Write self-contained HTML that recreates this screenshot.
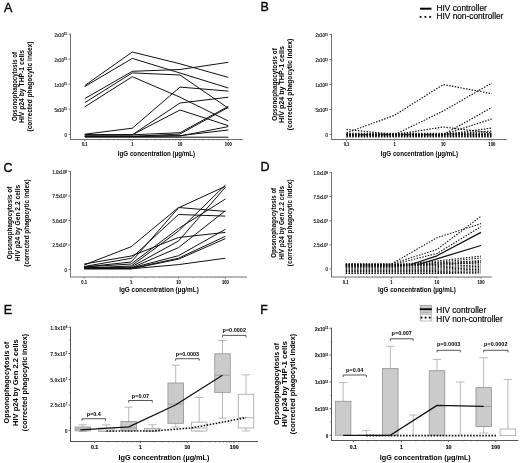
<!DOCTYPE html><html><head><meta charset="utf-8"><style>html,body{margin:0;padding:0;background:#fff;width:520px;height:463px;overflow:hidden}svg{display:block;filter:blur(0.35px)}text{font-family:"Liberation Sans",sans-serif}</style></head><body><svg width="520" height="463" viewBox="0 0 520 463"><g><text x="4.00" y="11.70" font-size="12.5" text-anchor="start" font-weight="normal" fill="#000" stroke="#000" stroke-width="0.35"  >A</text>
<text transform="translate(16.62,86.5) rotate(-90)" font-size="7.0" text-anchor="middle" fill="#000" font-weight="bold" textLength="69" lengthAdjust="spacingAndGlyphs">Opsonophagocytosis of</text>
<text transform="translate(23.62,86.5) rotate(-90)" font-size="7.0" text-anchor="middle" fill="#000" font-weight="bold" textLength="73" lengthAdjust="spacingAndGlyphs">HIV p24 by THP-1 cells</text>
<text transform="translate(31.72,86.5) rotate(-90)" font-size="7.0" text-anchor="middle" fill="#000" font-weight="bold" textLength="90" lengthAdjust="spacingAndGlyphs">(corrected phagocytic index)</text>
<line x1="70.50" y1="33.80" x2="70.50" y2="140.00" stroke="#707070" stroke-width="1.0" />
<line x1="68.50" y1="34.30" x2="70.50" y2="34.30" stroke="#707070" stroke-width="0.9" />
<text transform="translate(67.00,36.53) scale(0.9,1)" font-size="4.8" text-anchor="end" font-weight="normal" fill="#333" stroke="#333" stroke-width="0.25"  >2x10<tspan font-size="70%" baseline-shift="45%">11</tspan></text>
<line x1="68.50" y1="59.30" x2="70.50" y2="59.30" stroke="#707070" stroke-width="0.9" />
<text transform="translate(67.00,61.53) scale(0.9,1)" font-size="4.8" text-anchor="end" font-weight="normal" fill="#333" stroke="#333" stroke-width="0.25"  >2x10<tspan font-size="70%" baseline-shift="45%">11</tspan></text>
<line x1="68.50" y1="84.30" x2="70.50" y2="84.30" stroke="#707070" stroke-width="0.9" />
<text transform="translate(67.00,86.53) scale(0.9,1)" font-size="4.8" text-anchor="end" font-weight="normal" fill="#333" stroke="#333" stroke-width="0.25"  >1x10<tspan font-size="70%" baseline-shift="45%">11</tspan></text>
<line x1="68.50" y1="109.30" x2="70.50" y2="109.30" stroke="#707070" stroke-width="0.9" />
<text transform="translate(67.00,111.53) scale(0.9,1)" font-size="4.8" text-anchor="end" font-weight="normal" fill="#333" stroke="#333" stroke-width="0.25"  >5x10<tspan font-size="70%" baseline-shift="45%">11</tspan></text>
<line x1="68.50" y1="134.40" x2="70.50" y2="134.40" stroke="#707070" stroke-width="0.9" />
<text transform="translate(67.00,136.63) scale(0.9,1)" font-size="4.8" text-anchor="end" font-weight="normal" fill="#333" stroke="#333" stroke-width="0.25"  >0</text>
<line x1="70.00" y1="139.50" x2="243.00" y2="139.50" stroke="#707070" stroke-width="1.0" />
<line x1="84.80" y1="139.50" x2="84.80" y2="141.10" stroke="#707070" stroke-width="0.9" />
<text transform="translate(84.80,146.00) scale(0.9,1)" font-size="4.6" text-anchor="middle" font-weight="bold" fill="#111" stroke="#111" stroke-width="0.1"  >0.1</text>
<line x1="132.30" y1="139.50" x2="132.30" y2="141.10" stroke="#707070" stroke-width="0.9" />
<text transform="translate(132.30,146.00) scale(0.9,1)" font-size="4.6" text-anchor="middle" font-weight="bold" fill="#111" stroke="#111" stroke-width="0.1"  >1</text>
<line x1="180.00" y1="139.50" x2="180.00" y2="141.10" stroke="#707070" stroke-width="0.9" />
<text transform="translate(180.00,146.00) scale(0.9,1)" font-size="4.6" text-anchor="middle" font-weight="bold" fill="#111" stroke="#111" stroke-width="0.1"  >10</text>
<line x1="228.30" y1="139.50" x2="228.30" y2="141.10" stroke="#707070" stroke-width="0.9" />
<text transform="translate(228.30,146.00) scale(0.9,1)" font-size="4.6" text-anchor="middle" font-weight="bold" fill="#111" stroke="#111" stroke-width="0.1"  >100</text>
<line x1="99.20" y1="139.50" x2="99.20" y2="140.50" stroke="#707070" stroke-width="0.6" />
<line x1="107.62" y1="139.50" x2="107.62" y2="140.50" stroke="#707070" stroke-width="0.6" />
<line x1="113.60" y1="139.50" x2="113.60" y2="140.50" stroke="#707070" stroke-width="0.6" />
<line x1="118.23" y1="139.50" x2="118.23" y2="140.50" stroke="#707070" stroke-width="0.6" />
<line x1="122.02" y1="139.50" x2="122.02" y2="140.50" stroke="#707070" stroke-width="0.6" />
<line x1="125.22" y1="139.50" x2="125.22" y2="140.50" stroke="#707070" stroke-width="0.6" />
<line x1="128.00" y1="139.50" x2="128.00" y2="140.50" stroke="#707070" stroke-width="0.6" />
<line x1="130.44" y1="139.50" x2="130.44" y2="140.50" stroke="#707070" stroke-width="0.6" />
<line x1="146.70" y1="139.50" x2="146.70" y2="140.50" stroke="#707070" stroke-width="0.6" />
<line x1="155.12" y1="139.50" x2="155.12" y2="140.50" stroke="#707070" stroke-width="0.6" />
<line x1="161.10" y1="139.50" x2="161.10" y2="140.50" stroke="#707070" stroke-width="0.6" />
<line x1="165.73" y1="139.50" x2="165.73" y2="140.50" stroke="#707070" stroke-width="0.6" />
<line x1="169.52" y1="139.50" x2="169.52" y2="140.50" stroke="#707070" stroke-width="0.6" />
<line x1="172.72" y1="139.50" x2="172.72" y2="140.50" stroke="#707070" stroke-width="0.6" />
<line x1="175.50" y1="139.50" x2="175.50" y2="140.50" stroke="#707070" stroke-width="0.6" />
<line x1="177.94" y1="139.50" x2="177.94" y2="140.50" stroke="#707070" stroke-width="0.6" />
<line x1="194.40" y1="139.50" x2="194.40" y2="140.50" stroke="#707070" stroke-width="0.6" />
<line x1="202.82" y1="139.50" x2="202.82" y2="140.50" stroke="#707070" stroke-width="0.6" />
<line x1="208.80" y1="139.50" x2="208.80" y2="140.50" stroke="#707070" stroke-width="0.6" />
<line x1="213.43" y1="139.50" x2="213.43" y2="140.50" stroke="#707070" stroke-width="0.6" />
<line x1="217.22" y1="139.50" x2="217.22" y2="140.50" stroke="#707070" stroke-width="0.6" />
<line x1="220.42" y1="139.50" x2="220.42" y2="140.50" stroke="#707070" stroke-width="0.6" />
<line x1="223.20" y1="139.50" x2="223.20" y2="140.50" stroke="#707070" stroke-width="0.6" />
<line x1="225.64" y1="139.50" x2="225.64" y2="140.50" stroke="#707070" stroke-width="0.6" />
<text x="156.50" y="155.90" font-size="7.0" text-anchor="middle" font-weight="bold" fill="#000"  textLength="77.3" lengthAdjust="spacingAndGlyphs" >IgG concentration (µg/mL)</text>
<polyline points="84.80,85.50 132.30,52.00 180.00,63.80 228.30,77.40" fill="none" stroke="#111" stroke-width="1.0" stroke-linejoin="round"  />
<polyline points="84.80,86.50 132.30,58.40 180.00,73.00 228.30,88.00" fill="none" stroke="#111" stroke-width="1.0" stroke-linejoin="round"  />
<polyline points="84.80,98.60 132.30,71.30 180.00,69.50 228.30,62.30" fill="none" stroke="#111" stroke-width="1.0" stroke-linejoin="round"  />
<polyline points="84.80,102.60 132.30,72.90 180.00,75.00 228.30,108.20" fill="none" stroke="#111" stroke-width="1.0" stroke-linejoin="round"  />
<polyline points="84.80,106.80 132.30,76.70 180.00,97.20 228.30,121.00" fill="none" stroke="#111" stroke-width="1.0" stroke-linejoin="round"  />
<polyline points="84.80,134.20 132.30,128.20 180.00,87.10 228.30,91.10" fill="none" stroke="#111" stroke-width="1.0" stroke-linejoin="round"  />
<polyline points="84.80,134.80 132.30,134.80 180.00,103.00 228.30,97.20" fill="none" stroke="#111" stroke-width="1.0" stroke-linejoin="round"  />
<polyline points="84.80,134.80 132.30,134.80 180.00,110.00 228.30,125.60" fill="none" stroke="#111" stroke-width="1.0" stroke-linejoin="round"  />
<polyline points="84.80,135.00 132.30,134.80 180.00,132.70 228.30,106.40" fill="none" stroke="#111" stroke-width="1.0" stroke-linejoin="round"  />
<polyline points="84.80,136.40 132.30,136.40 180.00,134.00 228.30,107.40" fill="none" stroke="#111" stroke-width="1.0" stroke-linejoin="round"  />
<polyline points="84.80,136.40 132.30,136.40 180.00,136.00 228.30,126.60" fill="none" stroke="#111" stroke-width="1.0" stroke-linejoin="round"  />
<polyline points="84.80,136.40 132.30,136.40 180.00,135.60 228.30,130.00" fill="none" stroke="#111" stroke-width="1.0" stroke-linejoin="round"  />
<polyline points="84.80,137.20 132.30,137.20 180.00,137.20 228.30,137.20" fill="none" stroke="#111" stroke-width="1.0" stroke-linejoin="round"  />
<text x="260.40" y="10.90" font-size="12.5" text-anchor="start" font-weight="normal" fill="#000" stroke="#000" stroke-width="0.35"  >B</text>
<text transform="translate(277.22,84.5) rotate(-90)" font-size="7.0" text-anchor="middle" fill="#000" font-weight="bold" textLength="72.5" lengthAdjust="spacingAndGlyphs">Opsonophagocytosis of</text>
<text transform="translate(284.22,84.5) rotate(-90)" font-size="7.0" text-anchor="middle" fill="#000" font-weight="bold" textLength="77" lengthAdjust="spacingAndGlyphs">HIV p24 by THP-1 cells</text>
<text transform="translate(292.42,84.5) rotate(-90)" font-size="7.0" text-anchor="middle" fill="#000" font-weight="bold" textLength="91.5" lengthAdjust="spacingAndGlyphs">(corrected phagocytic index)</text>
<line x1="331.50" y1="33.80" x2="331.50" y2="140.00" stroke="#707070" stroke-width="1.0" />
<line x1="329.50" y1="34.50" x2="331.50" y2="34.50" stroke="#707070" stroke-width="0.9" />
<text transform="translate(328.00,36.73) scale(0.9,1)" font-size="4.8" text-anchor="end" font-weight="normal" fill="#333" stroke="#333" stroke-width="0.25"  >2x10<tspan font-size="70%" baseline-shift="45%">11</tspan></text>
<line x1="329.50" y1="59.50" x2="331.50" y2="59.50" stroke="#707070" stroke-width="0.9" />
<text transform="translate(328.00,61.73) scale(0.9,1)" font-size="4.8" text-anchor="end" font-weight="normal" fill="#333" stroke="#333" stroke-width="0.25"  >2x10<tspan font-size="70%" baseline-shift="45%">11</tspan></text>
<line x1="329.50" y1="84.50" x2="331.50" y2="84.50" stroke="#707070" stroke-width="0.9" />
<text transform="translate(328.00,86.73) scale(0.9,1)" font-size="4.8" text-anchor="end" font-weight="normal" fill="#333" stroke="#333" stroke-width="0.25"  >1x10<tspan font-size="70%" baseline-shift="45%">11</tspan></text>
<line x1="329.50" y1="109.50" x2="331.50" y2="109.50" stroke="#707070" stroke-width="0.9" />
<text transform="translate(328.00,111.73) scale(0.9,1)" font-size="4.8" text-anchor="end" font-weight="normal" fill="#333" stroke="#333" stroke-width="0.25"  >5x10<tspan font-size="70%" baseline-shift="45%">11</tspan></text>
<line x1="329.50" y1="134.50" x2="331.50" y2="134.50" stroke="#707070" stroke-width="0.9" />
<text transform="translate(328.00,136.73) scale(0.9,1)" font-size="4.8" text-anchor="end" font-weight="normal" fill="#333" stroke="#333" stroke-width="0.25"  >0</text>
<line x1="331.00" y1="139.50" x2="507.00" y2="139.50" stroke="#707070" stroke-width="1.0" />
<line x1="346.50" y1="139.50" x2="346.50" y2="141.10" stroke="#707070" stroke-width="0.9" />
<text transform="translate(346.50,146.00) scale(0.9,1)" font-size="4.6" text-anchor="middle" font-weight="bold" fill="#111" stroke="#111" stroke-width="0.1"  >0.1</text>
<line x1="394.70" y1="139.50" x2="394.70" y2="141.10" stroke="#707070" stroke-width="0.9" />
<text transform="translate(394.70,146.00) scale(0.9,1)" font-size="4.6" text-anchor="middle" font-weight="bold" fill="#111" stroke="#111" stroke-width="0.1"  >1</text>
<line x1="443.30" y1="139.50" x2="443.30" y2="141.10" stroke="#707070" stroke-width="0.9" />
<text transform="translate(443.30,146.00) scale(0.9,1)" font-size="4.6" text-anchor="middle" font-weight="bold" fill="#111" stroke="#111" stroke-width="0.1"  >10</text>
<line x1="491.80" y1="139.50" x2="491.80" y2="141.10" stroke="#707070" stroke-width="0.9" />
<text transform="translate(491.80,146.00) scale(0.9,1)" font-size="4.6" text-anchor="middle" font-weight="bold" fill="#111" stroke="#111" stroke-width="0.1"  >100</text>
<line x1="361.08" y1="139.50" x2="361.08" y2="140.50" stroke="#707070" stroke-width="0.6" />
<line x1="369.61" y1="139.50" x2="369.61" y2="140.50" stroke="#707070" stroke-width="0.6" />
<line x1="375.66" y1="139.50" x2="375.66" y2="140.50" stroke="#707070" stroke-width="0.6" />
<line x1="380.35" y1="139.50" x2="380.35" y2="140.50" stroke="#707070" stroke-width="0.6" />
<line x1="384.19" y1="139.50" x2="384.19" y2="140.50" stroke="#707070" stroke-width="0.6" />
<line x1="387.43" y1="139.50" x2="387.43" y2="140.50" stroke="#707070" stroke-width="0.6" />
<line x1="390.24" y1="139.50" x2="390.24" y2="140.50" stroke="#707070" stroke-width="0.6" />
<line x1="392.72" y1="139.50" x2="392.72" y2="140.50" stroke="#707070" stroke-width="0.6" />
<line x1="409.28" y1="139.50" x2="409.28" y2="140.50" stroke="#707070" stroke-width="0.6" />
<line x1="417.81" y1="139.50" x2="417.81" y2="140.50" stroke="#707070" stroke-width="0.6" />
<line x1="423.86" y1="139.50" x2="423.86" y2="140.50" stroke="#707070" stroke-width="0.6" />
<line x1="428.55" y1="139.50" x2="428.55" y2="140.50" stroke="#707070" stroke-width="0.6" />
<line x1="432.39" y1="139.50" x2="432.39" y2="140.50" stroke="#707070" stroke-width="0.6" />
<line x1="435.63" y1="139.50" x2="435.63" y2="140.50" stroke="#707070" stroke-width="0.6" />
<line x1="438.44" y1="139.50" x2="438.44" y2="140.50" stroke="#707070" stroke-width="0.6" />
<line x1="440.92" y1="139.50" x2="440.92" y2="140.50" stroke="#707070" stroke-width="0.6" />
<line x1="457.88" y1="139.50" x2="457.88" y2="140.50" stroke="#707070" stroke-width="0.6" />
<line x1="466.41" y1="139.50" x2="466.41" y2="140.50" stroke="#707070" stroke-width="0.6" />
<line x1="472.46" y1="139.50" x2="472.46" y2="140.50" stroke="#707070" stroke-width="0.6" />
<line x1="477.15" y1="139.50" x2="477.15" y2="140.50" stroke="#707070" stroke-width="0.6" />
<line x1="480.99" y1="139.50" x2="480.99" y2="140.50" stroke="#707070" stroke-width="0.6" />
<line x1="484.23" y1="139.50" x2="484.23" y2="140.50" stroke="#707070" stroke-width="0.6" />
<line x1="487.04" y1="139.50" x2="487.04" y2="140.50" stroke="#707070" stroke-width="0.6" />
<line x1="489.52" y1="139.50" x2="489.52" y2="140.50" stroke="#707070" stroke-width="0.6" />
<text x="419.50" y="155.90" font-size="7.0" text-anchor="middle" font-weight="bold" fill="#000"  textLength="77.3" lengthAdjust="spacingAndGlyphs" >IgG concentration (µg/mL)</text>
<polyline points="346.50,133.00 394.70,115.20 443.30,84.50 491.80,93.70" fill="none" stroke="#111" stroke-width="1.2" stroke-linejoin="round" stroke-dasharray="1.45 1.42" />
<polyline points="346.50,134.60 394.70,134.60 443.30,111.00 491.80,83.00" fill="none" stroke="#111" stroke-width="1.2" stroke-linejoin="round" stroke-dasharray="1.45 1.42" />
<polyline points="346.50,134.60 394.70,134.60 443.30,134.60 491.80,107.50" fill="none" stroke="#111" stroke-width="1.2" stroke-linejoin="round" stroke-dasharray="1.45 1.42" />
<polyline points="346.50,134.60 394.70,134.60 443.30,134.60 491.80,119.00" fill="none" stroke="#111" stroke-width="1.2" stroke-linejoin="round" stroke-dasharray="1.45 1.42" />
<polyline points="346.50,129.40 394.70,134.60 443.30,134.60 491.80,134.60" fill="none" stroke="#111" stroke-width="1.2" stroke-linejoin="round" stroke-dasharray="1.45 1.42" />
<polyline points="346.50,134.60 394.70,134.60 443.30,127.00 491.80,133.00" fill="none" stroke="#111" stroke-width="1.2" stroke-linejoin="round" stroke-dasharray="1.45 1.42" />
<polyline points="346.50,134.60 394.70,134.60 443.30,134.60 491.80,128.00" fill="none" stroke="#111" stroke-width="1.2" stroke-linejoin="round" stroke-dasharray="1.45 1.42" />
<polyline points="346.50,134.60 394.70,134.60 443.30,134.60 491.80,131.00" fill="none" stroke="#111" stroke-width="1.2" stroke-linejoin="round" stroke-dasharray="1.45 1.42" />
<polyline points="346.50,133.40 394.70,133.40 443.30,133.40 491.80,133.40" fill="none" stroke="#111" stroke-width="1.2" stroke-linejoin="round" stroke-dasharray="1.45 1.42" />
<polyline points="346.50,134.40 394.70,134.40 443.30,134.40 491.80,134.40" fill="none" stroke="#111" stroke-width="1.2" stroke-linejoin="round" stroke-dasharray="1.45 1.42" />
<polyline points="346.50,135.40 394.70,135.40 443.30,135.40 491.80,135.40" fill="none" stroke="#111" stroke-width="1.2" stroke-linejoin="round" stroke-dasharray="1.45 1.42" />
<polyline points="346.50,136.40 394.70,136.40 443.30,136.40 491.80,136.40" fill="none" stroke="#111" stroke-width="1.2" stroke-linejoin="round" stroke-dasharray="1.45 1.42" />
<polyline points="346.50,137.00 394.70,137.00 443.30,137.00 491.80,137.00" fill="none" stroke="#111" stroke-width="1.2" stroke-linejoin="round" stroke-dasharray="1.45 1.42" />
<line x1="420.00" y1="8.70" x2="431.50" y2="8.70" stroke="#000" stroke-width="2" />
<text x="436.50" y="11.30" font-size="8.3" text-anchor="start" font-weight="normal" fill="#000" stroke="#000" stroke-width="0.18"  >HIV controller</text>
<rect x="419.70000000000005" y="16" width="1.8" height="1.8" fill="#000"/>
<rect x="424.5" y="16" width="1.8" height="1.8" fill="#000"/>
<rect x="429.3" y="16" width="1.8" height="1.8" fill="#000"/>
<text x="436.50" y="19.00" font-size="8.3" text-anchor="start" font-weight="normal" fill="#000" stroke="#000" stroke-width="0.18"  >HIV non-controller</text>
<text x="3.50" y="171.60" font-size="12.5" text-anchor="start" font-weight="normal" fill="#000" stroke="#000" stroke-width="0.35"  >C</text>
<text transform="translate(12.12,223.0) rotate(-90)" font-size="7.0" text-anchor="middle" fill="#000" font-weight="bold" textLength="72.5" lengthAdjust="spacingAndGlyphs">Opsonophagocytosis of</text>
<text transform="translate(20.32,223.0) rotate(-90)" font-size="7.0" text-anchor="middle" fill="#000" font-weight="bold" textLength="76.5" lengthAdjust="spacingAndGlyphs">HIV p24 by Gen 2.2 cells</text>
<text transform="translate(29.32,223.0) rotate(-90)" font-size="7.0" text-anchor="middle" fill="#000" font-weight="bold" textLength="87.5" lengthAdjust="spacingAndGlyphs">(corrected phagocytic index)</text>
<line x1="70.50" y1="171.00" x2="70.50" y2="277.00" stroke="#707070" stroke-width="1.0" />
<line x1="68.50" y1="171.50" x2="70.50" y2="171.50" stroke="#707070" stroke-width="0.9" />
<text transform="translate(67.00,173.73) scale(0.9,1)" font-size="4.8" text-anchor="end" font-weight="normal" fill="#333" stroke="#333" stroke-width="0.25"  >1.0x10<tspan font-size="70%" baseline-shift="45%">8</tspan></text>
<line x1="68.50" y1="196.00" x2="70.50" y2="196.00" stroke="#707070" stroke-width="0.9" />
<text transform="translate(67.00,198.23) scale(0.9,1)" font-size="4.8" text-anchor="end" font-weight="normal" fill="#333" stroke="#333" stroke-width="0.25"  >7.5x10<tspan font-size="70%" baseline-shift="45%">7</tspan></text>
<line x1="68.50" y1="220.50" x2="70.50" y2="220.50" stroke="#707070" stroke-width="0.9" />
<text transform="translate(67.00,222.73) scale(0.9,1)" font-size="4.8" text-anchor="end" font-weight="normal" fill="#333" stroke="#333" stroke-width="0.25"  >5.0x10<tspan font-size="70%" baseline-shift="45%">7</tspan></text>
<line x1="68.50" y1="245.00" x2="70.50" y2="245.00" stroke="#707070" stroke-width="0.9" />
<text transform="translate(67.00,247.23) scale(0.9,1)" font-size="4.8" text-anchor="end" font-weight="normal" fill="#333" stroke="#333" stroke-width="0.25"  >2.5x10<tspan font-size="70%" baseline-shift="45%">7</tspan></text>
<line x1="68.50" y1="269.40" x2="70.50" y2="269.40" stroke="#707070" stroke-width="0.9" />
<text transform="translate(67.00,271.63) scale(0.9,1)" font-size="4.8" text-anchor="end" font-weight="normal" fill="#333" stroke="#333" stroke-width="0.25"  >0</text>
<line x1="70.00" y1="277.00" x2="247.00" y2="277.00" stroke="#707070" stroke-width="1.0" />
<line x1="84.20" y1="277.00" x2="84.20" y2="278.60" stroke="#707070" stroke-width="0.9" />
<text transform="translate(84.20,283.50) scale(0.9,1)" font-size="4.6" text-anchor="middle" font-weight="bold" fill="#111" stroke="#111" stroke-width="0.1"  >0.1</text>
<line x1="131.20" y1="277.00" x2="131.20" y2="278.60" stroke="#707070" stroke-width="0.9" />
<text transform="translate(131.20,283.50) scale(0.9,1)" font-size="4.6" text-anchor="middle" font-weight="bold" fill="#111" stroke="#111" stroke-width="0.1"  >1</text>
<line x1="178.50" y1="277.00" x2="178.50" y2="278.60" stroke="#707070" stroke-width="0.9" />
<text transform="translate(178.50,283.50) scale(0.9,1)" font-size="4.6" text-anchor="middle" font-weight="bold" fill="#111" stroke="#111" stroke-width="0.1"  >10</text>
<line x1="225.40" y1="277.00" x2="225.40" y2="278.60" stroke="#707070" stroke-width="0.9" />
<text transform="translate(225.40,283.50) scale(0.9,1)" font-size="4.6" text-anchor="middle" font-weight="bold" fill="#111" stroke="#111" stroke-width="0.1"  >100</text>
<line x1="98.37" y1="277.00" x2="98.37" y2="278.00" stroke="#707070" stroke-width="0.6" />
<line x1="106.66" y1="277.00" x2="106.66" y2="278.00" stroke="#707070" stroke-width="0.6" />
<line x1="112.54" y1="277.00" x2="112.54" y2="278.00" stroke="#707070" stroke-width="0.6" />
<line x1="117.10" y1="277.00" x2="117.10" y2="278.00" stroke="#707070" stroke-width="0.6" />
<line x1="120.82" y1="277.00" x2="120.82" y2="278.00" stroke="#707070" stroke-width="0.6" />
<line x1="123.98" y1="277.00" x2="123.98" y2="278.00" stroke="#707070" stroke-width="0.6" />
<line x1="126.71" y1="277.00" x2="126.71" y2="278.00" stroke="#707070" stroke-width="0.6" />
<line x1="129.11" y1="277.00" x2="129.11" y2="278.00" stroke="#707070" stroke-width="0.6" />
<line x1="145.37" y1="277.00" x2="145.37" y2="278.00" stroke="#707070" stroke-width="0.6" />
<line x1="153.66" y1="277.00" x2="153.66" y2="278.00" stroke="#707070" stroke-width="0.6" />
<line x1="159.54" y1="277.00" x2="159.54" y2="278.00" stroke="#707070" stroke-width="0.6" />
<line x1="164.10" y1="277.00" x2="164.10" y2="278.00" stroke="#707070" stroke-width="0.6" />
<line x1="167.82" y1="277.00" x2="167.82" y2="278.00" stroke="#707070" stroke-width="0.6" />
<line x1="170.98" y1="277.00" x2="170.98" y2="278.00" stroke="#707070" stroke-width="0.6" />
<line x1="173.71" y1="277.00" x2="173.71" y2="278.00" stroke="#707070" stroke-width="0.6" />
<line x1="176.11" y1="277.00" x2="176.11" y2="278.00" stroke="#707070" stroke-width="0.6" />
<line x1="192.67" y1="277.00" x2="192.67" y2="278.00" stroke="#707070" stroke-width="0.6" />
<line x1="200.96" y1="277.00" x2="200.96" y2="278.00" stroke="#707070" stroke-width="0.6" />
<line x1="206.84" y1="277.00" x2="206.84" y2="278.00" stroke="#707070" stroke-width="0.6" />
<line x1="211.40" y1="277.00" x2="211.40" y2="278.00" stroke="#707070" stroke-width="0.6" />
<line x1="215.12" y1="277.00" x2="215.12" y2="278.00" stroke="#707070" stroke-width="0.6" />
<line x1="218.28" y1="277.00" x2="218.28" y2="278.00" stroke="#707070" stroke-width="0.6" />
<line x1="221.01" y1="277.00" x2="221.01" y2="278.00" stroke="#707070" stroke-width="0.6" />
<line x1="223.41" y1="277.00" x2="223.41" y2="278.00" stroke="#707070" stroke-width="0.6" />
<text x="159.00" y="292.20" font-size="7.0" text-anchor="middle" font-weight="bold" fill="#000"  textLength="79.6" lengthAdjust="spacingAndGlyphs" >IgG concentration (µg/mL)</text>
<polyline points="84.20,265.00 131.20,246.70 178.50,207.50 225.40,211.40" fill="none" stroke="#111" stroke-width="1.0" stroke-linejoin="round"  />
<polyline points="84.20,266.50 131.20,258.30 178.50,214.50 225.40,216.10" fill="none" stroke="#111" stroke-width="1.0" stroke-linejoin="round"  />
<polyline points="84.20,267.00 131.20,262.00 178.50,207.80 225.40,186.30" fill="none" stroke="#111" stroke-width="1.0" stroke-linejoin="round"  />
<polyline points="84.20,268.00 131.20,266.00 178.50,231.00 225.40,185.00" fill="none" stroke="#111" stroke-width="1.0" stroke-linejoin="round"  />
<polyline points="84.20,268.00 131.20,267.00 178.50,241.00 225.40,187.20" fill="none" stroke="#111" stroke-width="1.0" stroke-linejoin="round"  />
<polyline points="84.20,267.00 131.20,264.00 178.50,228.50 225.40,199.00" fill="none" stroke="#111" stroke-width="1.0" stroke-linejoin="round"  />
<polyline points="84.20,268.00 131.20,268.00 178.50,247.60 225.40,210.70" fill="none" stroke="#111" stroke-width="1.0" stroke-linejoin="round"  />
<polyline points="84.20,264.00 131.20,256.00 178.50,237.50 225.40,232.40" fill="none" stroke="#111" stroke-width="1.0" stroke-linejoin="round"  />
<polyline points="84.20,268.00 131.20,268.00 178.50,255.70 225.40,229.30" fill="none" stroke="#111" stroke-width="1.0" stroke-linejoin="round"  />
<polyline points="84.20,268.50 131.20,268.50 178.50,258.20 225.40,236.30" fill="none" stroke="#111" stroke-width="1.0" stroke-linejoin="round"  />
<polyline points="84.20,268.80 131.20,268.80 178.50,259.20 225.40,238.60" fill="none" stroke="#111" stroke-width="1.0" stroke-linejoin="round"  />
<polyline points="84.20,268.80 131.20,268.80 178.50,264.60 225.40,258.20" fill="none" stroke="#111" stroke-width="1.0" stroke-linejoin="round"  />
<text x="260.40" y="171.30" font-size="12.5" text-anchor="start" font-weight="normal" fill="#000" stroke="#000" stroke-width="0.35"  >D</text>
<text transform="translate(275.67,222.8) rotate(-90)" font-size="6.8" text-anchor="middle" fill="#000" font-weight="bold" textLength="69.9" lengthAdjust="spacingAndGlyphs">Opsonophagocytosis of</text>
<text transform="translate(283.77,222.8) rotate(-90)" font-size="6.8" text-anchor="middle" fill="#000" font-weight="bold" textLength="73.7" lengthAdjust="spacingAndGlyphs">HIV p24 by Gen 2.2 cells</text>
<text transform="translate(292.27,222.8) rotate(-90)" font-size="6.8" text-anchor="middle" fill="#000" font-weight="bold" textLength="86.8" lengthAdjust="spacingAndGlyphs">(corrected phagocytic index)</text>
<line x1="331.50" y1="172.00" x2="331.50" y2="277.00" stroke="#707070" stroke-width="1.0" />
<line x1="329.50" y1="172.60" x2="331.50" y2="172.60" stroke="#707070" stroke-width="0.9" />
<text transform="translate(328.00,174.83) scale(0.9,1)" font-size="4.8" text-anchor="end" font-weight="normal" fill="#333" stroke="#333" stroke-width="0.25"  >1.0x10<tspan font-size="70%" baseline-shift="45%">8</tspan></text>
<line x1="329.50" y1="196.50" x2="331.50" y2="196.50" stroke="#707070" stroke-width="0.9" />
<text transform="translate(328.00,198.73) scale(0.9,1)" font-size="4.8" text-anchor="end" font-weight="normal" fill="#333" stroke="#333" stroke-width="0.25"  >7.5x10<tspan font-size="70%" baseline-shift="45%">7</tspan></text>
<line x1="329.50" y1="220.70" x2="331.50" y2="220.70" stroke="#707070" stroke-width="0.9" />
<text transform="translate(328.00,222.93) scale(0.9,1)" font-size="4.8" text-anchor="end" font-weight="normal" fill="#333" stroke="#333" stroke-width="0.25"  >5.0x10<tspan font-size="70%" baseline-shift="45%">7</tspan></text>
<line x1="329.50" y1="244.80" x2="331.50" y2="244.80" stroke="#707070" stroke-width="0.9" />
<text transform="translate(328.00,247.03) scale(0.9,1)" font-size="4.8" text-anchor="end" font-weight="normal" fill="#333" stroke="#333" stroke-width="0.25"  >2.5x10<tspan font-size="70%" baseline-shift="45%">7</tspan></text>
<line x1="329.50" y1="269.00" x2="331.50" y2="269.00" stroke="#707070" stroke-width="0.9" />
<text transform="translate(328.00,271.23) scale(0.9,1)" font-size="4.8" text-anchor="end" font-weight="normal" fill="#333" stroke="#333" stroke-width="0.25"  >0</text>
<line x1="331.00" y1="277.00" x2="491.80" y2="277.00" stroke="#707070" stroke-width="1.0" />
<line x1="345.70" y1="277.00" x2="345.70" y2="278.60" stroke="#707070" stroke-width="0.9" />
<text transform="translate(345.70,283.50) scale(0.9,1)" font-size="4.6" text-anchor="middle" font-weight="bold" fill="#111" stroke="#111" stroke-width="0.1"  >0.1</text>
<line x1="391.40" y1="277.00" x2="391.40" y2="278.60" stroke="#707070" stroke-width="0.9" />
<text transform="translate(391.40,283.50) scale(0.9,1)" font-size="4.6" text-anchor="middle" font-weight="bold" fill="#111" stroke="#111" stroke-width="0.1"  >1</text>
<line x1="436.90" y1="277.00" x2="436.90" y2="278.60" stroke="#707070" stroke-width="0.9" />
<text transform="translate(436.90,283.50) scale(0.9,1)" font-size="4.6" text-anchor="middle" font-weight="bold" fill="#111" stroke="#111" stroke-width="0.1"  >10</text>
<line x1="481.00" y1="277.00" x2="481.00" y2="278.60" stroke="#707070" stroke-width="0.9" />
<text transform="translate(481.00,283.50) scale(0.9,1)" font-size="4.6" text-anchor="middle" font-weight="bold" fill="#111" stroke="#111" stroke-width="0.1"  >100</text>
<line x1="359.28" y1="277.00" x2="359.28" y2="278.00" stroke="#707070" stroke-width="0.6" />
<line x1="367.22" y1="277.00" x2="367.22" y2="278.00" stroke="#707070" stroke-width="0.6" />
<line x1="372.85" y1="277.00" x2="372.85" y2="278.00" stroke="#707070" stroke-width="0.6" />
<line x1="377.22" y1="277.00" x2="377.22" y2="278.00" stroke="#707070" stroke-width="0.6" />
<line x1="380.79" y1="277.00" x2="380.79" y2="278.00" stroke="#707070" stroke-width="0.6" />
<line x1="383.81" y1="277.00" x2="383.81" y2="278.00" stroke="#707070" stroke-width="0.6" />
<line x1="386.43" y1="277.00" x2="386.43" y2="278.00" stroke="#707070" stroke-width="0.6" />
<line x1="388.74" y1="277.00" x2="388.74" y2="278.00" stroke="#707070" stroke-width="0.6" />
<line x1="404.98" y1="277.00" x2="404.98" y2="278.00" stroke="#707070" stroke-width="0.6" />
<line x1="412.92" y1="277.00" x2="412.92" y2="278.00" stroke="#707070" stroke-width="0.6" />
<line x1="418.55" y1="277.00" x2="418.55" y2="278.00" stroke="#707070" stroke-width="0.6" />
<line x1="422.92" y1="277.00" x2="422.92" y2="278.00" stroke="#707070" stroke-width="0.6" />
<line x1="426.49" y1="277.00" x2="426.49" y2="278.00" stroke="#707070" stroke-width="0.6" />
<line x1="429.51" y1="277.00" x2="429.51" y2="278.00" stroke="#707070" stroke-width="0.6" />
<line x1="432.13" y1="277.00" x2="432.13" y2="278.00" stroke="#707070" stroke-width="0.6" />
<line x1="434.44" y1="277.00" x2="434.44" y2="278.00" stroke="#707070" stroke-width="0.6" />
<line x1="450.48" y1="277.00" x2="450.48" y2="278.00" stroke="#707070" stroke-width="0.6" />
<line x1="458.42" y1="277.00" x2="458.42" y2="278.00" stroke="#707070" stroke-width="0.6" />
<line x1="464.05" y1="277.00" x2="464.05" y2="278.00" stroke="#707070" stroke-width="0.6" />
<line x1="468.42" y1="277.00" x2="468.42" y2="278.00" stroke="#707070" stroke-width="0.6" />
<line x1="471.99" y1="277.00" x2="471.99" y2="278.00" stroke="#707070" stroke-width="0.6" />
<line x1="475.01" y1="277.00" x2="475.01" y2="278.00" stroke="#707070" stroke-width="0.6" />
<line x1="477.63" y1="277.00" x2="477.63" y2="278.00" stroke="#707070" stroke-width="0.6" />
<line x1="479.94" y1="277.00" x2="479.94" y2="278.00" stroke="#707070" stroke-width="0.6" />
<text x="416.90" y="292.20" font-size="7.0" text-anchor="middle" font-weight="bold" fill="#000"  textLength="77.8" lengthAdjust="spacingAndGlyphs" >IgG concentration (µg/mL)</text>
<polyline points="345.70,264.00 391.40,264.00 436.90,237.70 481.00,223.60" fill="none" stroke="#111" stroke-width="1.1" stroke-linejoin="round" stroke-dasharray="1.45 1.42" />
<polyline points="345.70,264.00 391.40,264.00 436.90,249.50 481.00,216.30" fill="none" stroke="#111" stroke-width="1.1" stroke-linejoin="round" stroke-dasharray="1.45 1.42" />
<polyline points="345.70,265.00 391.40,265.00 436.90,253.50 481.00,226.60" fill="none" stroke="#111" stroke-width="1.1" stroke-linejoin="round" stroke-dasharray="1.45 1.42" />
<polyline points="345.70,265.00 391.40,265.00 436.90,261.00 481.00,256.10" fill="none" stroke="#111" stroke-width="1.1" stroke-linejoin="round" stroke-dasharray="1.45 1.42" />
<polyline points="345.70,266.00 391.40,266.00 436.90,262.30 481.00,258.00" fill="none" stroke="#111" stroke-width="1.1" stroke-linejoin="round" stroke-dasharray="1.45 1.42" />
<polyline points="345.70,266.00 391.40,266.00 436.90,263.00 481.00,260.60" fill="none" stroke="#111" stroke-width="1.1" stroke-linejoin="round" stroke-dasharray="1.45 1.42" />
<polyline points="345.70,267.00 391.40,267.00 436.90,264.00 481.00,262.90" fill="none" stroke="#111" stroke-width="1.1" stroke-linejoin="round" stroke-dasharray="1.45 1.42" />
<polyline points="345.70,264.30 391.40,264.30 436.90,264.30 481.00,261.30" fill="none" stroke="#111" stroke-width="1.15" stroke-linejoin="round" stroke-dasharray="1.45 1.42" />
<polyline points="345.70,265.50 391.40,265.50 436.90,265.50 481.00,262.50" fill="none" stroke="#111" stroke-width="1.15" stroke-linejoin="round" stroke-dasharray="1.45 1.42" />
<polyline points="345.70,266.70 391.40,266.70 436.90,266.70 481.00,264.80" fill="none" stroke="#111" stroke-width="1.15" stroke-linejoin="round" stroke-dasharray="1.45 1.42" />
<polyline points="345.70,267.90 391.40,267.90 436.90,267.90 481.00,266.30" fill="none" stroke="#111" stroke-width="1.15" stroke-linejoin="round" stroke-dasharray="1.45 1.42" />
<polyline points="345.70,269.10 391.40,269.10 436.90,269.10 481.00,267.80" fill="none" stroke="#111" stroke-width="1.15" stroke-linejoin="round" stroke-dasharray="1.45 1.42" />
<polyline points="345.70,270.30 391.40,270.30 436.90,270.30 481.00,269.30" fill="none" stroke="#111" stroke-width="1.15" stroke-linejoin="round" stroke-dasharray="1.45 1.42" />
<polyline points="345.70,271.50 391.40,271.50 436.90,271.50 481.00,270.80" fill="none" stroke="#111" stroke-width="1.15" stroke-linejoin="round" stroke-dasharray="1.45 1.42" />
<polyline points="345.70,272.70 391.40,272.70 436.90,272.70 481.00,272.00" fill="none" stroke="#111" stroke-width="1.15" stroke-linejoin="round" stroke-dasharray="1.45 1.42" />
<polyline points="345.70,273.50 391.40,273.50 436.90,273.50 481.00,273.00" fill="none" stroke="#111" stroke-width="1.15" stroke-linejoin="round" stroke-dasharray="1.45 1.42" />
<polyline points="411.00,264.50 436.90,255.80 481.00,232.40" fill="none" stroke="#111" stroke-width="1.3" stroke-linejoin="round"  />
<polyline points="418.00,264.50 436.90,258.80 481.00,245.50" fill="none" stroke="#111" stroke-width="1.3" stroke-linejoin="round"  />
<text x="3.80" y="313.80" font-size="12.5" text-anchor="start" font-weight="normal" fill="#000" stroke="#000" stroke-width="0.35"  >E</text>
<text transform="translate(8.53,382.6) rotate(-90)" font-size="7.8" text-anchor="middle" fill="#000" font-weight="bold" textLength="81.6" lengthAdjust="spacingAndGlyphs">Opsonophagocytosis of</text>
<text transform="translate(17.63,382.6) rotate(-90)" font-size="7.8" text-anchor="middle" fill="#000" font-weight="bold" textLength="86.8" lengthAdjust="spacingAndGlyphs">HIV p24 by Gen 2.2 cells</text>
<text transform="translate(27.23,382.6) rotate(-90)" font-size="7.8" text-anchor="middle" fill="#000" font-weight="bold" textLength="97.2" lengthAdjust="spacingAndGlyphs">(corrected phagocytic index)</text>
<line x1="70.50" y1="326.80" x2="70.50" y2="442.00" stroke="#555" stroke-width="1.0" />
<line x1="68.50" y1="327.30" x2="70.50" y2="327.30" stroke="#555" stroke-width="0.9" />
<text transform="translate(67.50,329.60) scale(1.0,1)" font-size="5.0" text-anchor="end" font-weight="bold" fill="#111"   >1.0x10<tspan font-size="70%" baseline-shift="45%">8</tspan></text>
<line x1="68.50" y1="353.50" x2="70.50" y2="353.50" stroke="#555" stroke-width="0.9" />
<text transform="translate(67.50,355.80) scale(1.0,1)" font-size="5.0" text-anchor="end" font-weight="bold" fill="#111"   >7.5x10<tspan font-size="70%" baseline-shift="45%">7</tspan></text>
<line x1="68.50" y1="379.40" x2="70.50" y2="379.40" stroke="#555" stroke-width="0.9" />
<text transform="translate(67.50,381.70) scale(1.0,1)" font-size="5.0" text-anchor="end" font-weight="bold" fill="#111"   >5.0x10<tspan font-size="70%" baseline-shift="45%">7</tspan></text>
<line x1="68.50" y1="405.00" x2="70.50" y2="405.00" stroke="#555" stroke-width="0.9" />
<text transform="translate(67.50,407.30) scale(1.0,1)" font-size="5.0" text-anchor="end" font-weight="bold" fill="#111"   >2.5x10<tspan font-size="70%" baseline-shift="45%">7</tspan></text>
<line x1="68.50" y1="430.30" x2="70.50" y2="430.30" stroke="#555" stroke-width="0.9" />
<text transform="translate(67.50,432.60) scale(1.0,1)" font-size="5.0" text-anchor="end" font-weight="bold" fill="#111"   >0</text>
<line x1="69.30" y1="340.40" x2="70.50" y2="340.40" stroke="#555" stroke-width="0.6" />
<line x1="69.30" y1="366.45" x2="70.50" y2="366.45" stroke="#555" stroke-width="0.6" />
<line x1="69.30" y1="392.20" x2="70.50" y2="392.20" stroke="#555" stroke-width="0.6" />
<line x1="69.30" y1="417.65" x2="70.50" y2="417.65" stroke="#555" stroke-width="0.6" />
<line x1="70.00" y1="441.50" x2="258.00" y2="441.50" stroke="#555" stroke-width="1.0" />
<line x1="94.60" y1="441.50" x2="94.60" y2="443.10" stroke="#555" stroke-width="0.9" />
<text transform="translate(94.60,448.90) scale(1.0,1)" font-size="5.2" text-anchor="middle" font-weight="bold" fill="#111" stroke="#111" stroke-width="0.2"  >0.1</text>
<line x1="140.50" y1="441.50" x2="140.50" y2="443.10" stroke="#555" stroke-width="0.9" />
<text transform="translate(140.50,448.90) scale(1.0,1)" font-size="5.2" text-anchor="middle" font-weight="bold" fill="#111" stroke="#111" stroke-width="0.2"  >1</text>
<line x1="187.30" y1="441.50" x2="187.30" y2="443.10" stroke="#555" stroke-width="0.9" />
<text transform="translate(187.30,448.90) scale(1.0,1)" font-size="5.2" text-anchor="middle" font-weight="bold" fill="#111" stroke="#111" stroke-width="0.2"  >10</text>
<line x1="234.20" y1="441.50" x2="234.20" y2="443.10" stroke="#555" stroke-width="0.9" />
<text transform="translate(234.20,448.90) scale(1.0,1)" font-size="5.2" text-anchor="middle" font-weight="bold" fill="#111" stroke="#111" stroke-width="0.2"  >100</text>
<line x1="108.61" y1="441.50" x2="108.61" y2="442.50" stroke="#555" stroke-width="0.6" />
<line x1="116.80" y1="441.50" x2="116.80" y2="442.50" stroke="#555" stroke-width="0.6" />
<line x1="122.62" y1="441.50" x2="122.62" y2="442.50" stroke="#555" stroke-width="0.6" />
<line x1="127.13" y1="441.50" x2="127.13" y2="442.50" stroke="#555" stroke-width="0.6" />
<line x1="130.81" y1="441.50" x2="130.81" y2="442.50" stroke="#555" stroke-width="0.6" />
<line x1="133.93" y1="441.50" x2="133.93" y2="442.50" stroke="#555" stroke-width="0.6" />
<line x1="136.62" y1="441.50" x2="136.62" y2="442.50" stroke="#555" stroke-width="0.6" />
<line x1="139.00" y1="441.50" x2="139.00" y2="442.50" stroke="#555" stroke-width="0.6" />
<line x1="154.51" y1="441.50" x2="154.51" y2="442.50" stroke="#555" stroke-width="0.6" />
<line x1="162.70" y1="441.50" x2="162.70" y2="442.50" stroke="#555" stroke-width="0.6" />
<line x1="168.52" y1="441.50" x2="168.52" y2="442.50" stroke="#555" stroke-width="0.6" />
<line x1="173.03" y1="441.50" x2="173.03" y2="442.50" stroke="#555" stroke-width="0.6" />
<line x1="176.71" y1="441.50" x2="176.71" y2="442.50" stroke="#555" stroke-width="0.6" />
<line x1="179.83" y1="441.50" x2="179.83" y2="442.50" stroke="#555" stroke-width="0.6" />
<line x1="182.52" y1="441.50" x2="182.52" y2="442.50" stroke="#555" stroke-width="0.6" />
<line x1="184.90" y1="441.50" x2="184.90" y2="442.50" stroke="#555" stroke-width="0.6" />
<line x1="201.31" y1="441.50" x2="201.31" y2="442.50" stroke="#555" stroke-width="0.6" />
<line x1="209.50" y1="441.50" x2="209.50" y2="442.50" stroke="#555" stroke-width="0.6" />
<line x1="215.32" y1="441.50" x2="215.32" y2="442.50" stroke="#555" stroke-width="0.6" />
<line x1="219.83" y1="441.50" x2="219.83" y2="442.50" stroke="#555" stroke-width="0.6" />
<line x1="223.51" y1="441.50" x2="223.51" y2="442.50" stroke="#555" stroke-width="0.6" />
<line x1="226.63" y1="441.50" x2="226.63" y2="442.50" stroke="#555" stroke-width="0.6" />
<line x1="229.32" y1="441.50" x2="229.32" y2="442.50" stroke="#555" stroke-width="0.6" />
<line x1="231.70" y1="441.50" x2="231.70" y2="442.50" stroke="#555" stroke-width="0.6" />
<text x="164.00" y="460.30" font-size="7.8" text-anchor="middle" font-weight="bold" fill="#000"  textLength="91" lengthAdjust="spacingAndGlyphs" >IgG concentration (µg/mL)</text>
<line x1="82.80" y1="424.80" x2="82.80" y2="427.00" stroke="#a8a8a8" stroke-width="0.8" />
<line x1="82.80" y1="430.80" x2="82.80" y2="431.50" stroke="#a8a8a8" stroke-width="0.8" />
<line x1="78.61" y1="424.80" x2="86.98" y2="424.80" stroke="#a8a8a8" stroke-width="0.8" />
<line x1="78.61" y1="431.50" x2="86.98" y2="431.50" stroke="#a8a8a8" stroke-width="0.8" />
<rect x="75.05" y="427.00" width="15.50" height="3.80" fill="#cbcbcb" stroke="#9a9a9a" stroke-width="0.9"/>
<line x1="75.05" y1="429.00" x2="90.55" y2="429.00" stroke="#9a9a9a" stroke-width="0.9" />
<line x1="128.70" y1="407.20" x2="128.70" y2="421.50" stroke="#a8a8a8" stroke-width="0.8" />
<line x1="128.70" y1="430.80" x2="128.70" y2="431.00" stroke="#a8a8a8" stroke-width="0.8" />
<line x1="124.51" y1="407.20" x2="132.88" y2="407.20" stroke="#a8a8a8" stroke-width="0.8" />
<line x1="124.51" y1="431.00" x2="132.88" y2="431.00" stroke="#a8a8a8" stroke-width="0.8" />
<rect x="120.95" y="421.50" width="15.50" height="9.30" fill="#cbcbcb" stroke="#9a9a9a" stroke-width="0.9"/>
<line x1="120.95" y1="428.00" x2="136.45" y2="428.00" stroke="#9a9a9a" stroke-width="0.9" />
<line x1="175.70" y1="365.20" x2="175.70" y2="383.00" stroke="#a8a8a8" stroke-width="0.8" />
<line x1="175.70" y1="423.30" x2="175.70" y2="427.00" stroke="#a8a8a8" stroke-width="0.8" />
<line x1="171.52" y1="365.20" x2="179.89" y2="365.20" stroke="#a8a8a8" stroke-width="0.8" />
<line x1="171.52" y1="427.00" x2="179.89" y2="427.00" stroke="#a8a8a8" stroke-width="0.8" />
<rect x="167.95" y="383.00" width="15.50" height="40.30" fill="#cbcbcb" stroke="#9a9a9a" stroke-width="0.9"/>
<line x1="167.95" y1="404.00" x2="183.45" y2="404.00" stroke="#9a9a9a" stroke-width="0.9" />
<line x1="222.50" y1="340.50" x2="222.50" y2="353.80" stroke="#a8a8a8" stroke-width="0.8" />
<line x1="222.50" y1="392.40" x2="222.50" y2="418.20" stroke="#a8a8a8" stroke-width="0.8" />
<line x1="218.31" y1="340.50" x2="226.69" y2="340.50" stroke="#a8a8a8" stroke-width="0.8" />
<line x1="218.31" y1="418.20" x2="226.69" y2="418.20" stroke="#a8a8a8" stroke-width="0.8" />
<rect x="214.75" y="353.80" width="15.50" height="38.60" fill="#cbcbcb" stroke="#9a9a9a" stroke-width="0.9"/>
<line x1="214.75" y1="375.20" x2="230.25" y2="375.20" stroke="#9a9a9a" stroke-width="0.9" />
<line x1="106.40" y1="424.80" x2="106.40" y2="428.00" stroke="#a8a8a8" stroke-width="0.8" />
<line x1="106.40" y1="431.50" x2="106.40" y2="431.50" stroke="#a8a8a8" stroke-width="0.8" />
<line x1="102.21" y1="424.80" x2="110.58" y2="424.80" stroke="#a8a8a8" stroke-width="0.8" />
<line x1="102.21" y1="431.50" x2="110.58" y2="431.50" stroke="#a8a8a8" stroke-width="0.8" />
<rect x="98.65" y="428.00" width="15.50" height="3.50" fill="#ffffff" stroke="#acacac" stroke-width="0.9"/>
<line x1="98.65" y1="430.00" x2="114.15" y2="430.00" stroke="#acacac" stroke-width="0.9" />
<line x1="152.30" y1="424.80" x2="152.30" y2="428.50" stroke="#a8a8a8" stroke-width="0.8" />
<line x1="152.30" y1="431.20" x2="152.30" y2="431.50" stroke="#a8a8a8" stroke-width="0.8" />
<line x1="148.12" y1="424.80" x2="156.49" y2="424.80" stroke="#a8a8a8" stroke-width="0.8" />
<line x1="148.12" y1="431.50" x2="156.49" y2="431.50" stroke="#a8a8a8" stroke-width="0.8" />
<rect x="144.55" y="428.50" width="15.50" height="2.70" fill="#ffffff" stroke="#acacac" stroke-width="0.9"/>
<line x1="144.55" y1="430.00" x2="160.05" y2="430.00" stroke="#acacac" stroke-width="0.9" />
<line x1="199.20" y1="397.40" x2="199.20" y2="422.20" stroke="#a8a8a8" stroke-width="0.8" />
<line x1="199.20" y1="431.00" x2="199.20" y2="431.00" stroke="#a8a8a8" stroke-width="0.8" />
<line x1="195.02" y1="397.40" x2="203.39" y2="397.40" stroke="#a8a8a8" stroke-width="0.8" />
<line x1="195.02" y1="431.00" x2="203.39" y2="431.00" stroke="#a8a8a8" stroke-width="0.8" />
<rect x="191.45" y="422.20" width="15.50" height="8.80" fill="#ffffff" stroke="#acacac" stroke-width="0.9"/>
<line x1="191.45" y1="428.00" x2="206.95" y2="428.00" stroke="#acacac" stroke-width="0.9" />
<line x1="246.00" y1="374.80" x2="246.00" y2="394.30" stroke="#a8a8a8" stroke-width="0.8" />
<line x1="246.00" y1="428.00" x2="246.00" y2="430.90" stroke="#a8a8a8" stroke-width="0.8" />
<line x1="241.81" y1="374.80" x2="250.19" y2="374.80" stroke="#a8a8a8" stroke-width="0.8" />
<line x1="241.81" y1="430.90" x2="250.19" y2="430.90" stroke="#a8a8a8" stroke-width="0.8" />
<rect x="238.25" y="394.30" width="15.50" height="33.70" fill="#ffffff" stroke="#acacac" stroke-width="0.9"/>
<line x1="238.25" y1="417.70" x2="253.75" y2="417.70" stroke="#acacac" stroke-width="0.9" />
<polyline points="80.40,429.80 128.80,426.80 175.50,405.00 222.50,375.20" fill="none" stroke="#111" stroke-width="1.3" stroke-linejoin="round"  />
<polyline points="106.40,431.00 152.30,431.00 191.00,428.00 215.00,423.60 246.00,417.70" fill="none" stroke="#111" stroke-width="1.6" stroke-linejoin="round" stroke-dasharray="1.55 1.5" />
<polyline points="82.10,420.70 82.10,418.70 105.50,418.70 105.50,420.70" fill="none" stroke="#444" stroke-width="0.9" stroke-linejoin="round"  />
<text x="93.80" y="415.80" font-size="5.5" text-anchor="middle" font-weight="bold" fill="#000"   >p=0.4</text>
<polyline points="128.70,402.50 128.70,400.50 152.30,400.50 152.30,402.50" fill="none" stroke="#444" stroke-width="0.9" stroke-linejoin="round"  />
<text x="140.50" y="397.60" font-size="5.5" text-anchor="middle" font-weight="bold" fill="#000"   >p=0.07</text>
<polyline points="175.70,360.70 175.70,358.70 199.20,358.70 199.20,360.70" fill="none" stroke="#444" stroke-width="0.9" stroke-linejoin="round"  />
<text x="187.45" y="355.80" font-size="5.5" text-anchor="middle" font-weight="bold" fill="#000"   >p=0.0003</text>
<polyline points="222.50,337.40 222.50,335.40 246.00,335.40 246.00,337.40" fill="none" stroke="#444" stroke-width="0.9" stroke-linejoin="round"  />
<text x="234.25" y="332.40" font-size="5.5" text-anchor="middle" font-weight="bold" fill="#000"   >p=0.0002</text>
<text x="260.30" y="314.20" font-size="12.2" text-anchor="start" font-weight="normal" fill="#000" stroke="#000" stroke-width="0.35"  >F</text>
<text transform="translate(278.78,384.0) rotate(-90)" font-size="8.0" text-anchor="middle" fill="#000" font-weight="bold" textLength="82" lengthAdjust="spacingAndGlyphs">Opsonophagocytosis of</text>
<text transform="translate(286.88,384.0) rotate(-90)" font-size="8.0" text-anchor="middle" fill="#000" font-weight="bold" textLength="86" lengthAdjust="spacingAndGlyphs">HIV p24 by THP-1 cells</text>
<text transform="translate(295.08,384.0) rotate(-90)" font-size="8.0" text-anchor="middle" fill="#000" font-weight="bold" textLength="100.5" lengthAdjust="spacingAndGlyphs">(corrected phagocytic index)</text>
<line x1="331.50" y1="327.80" x2="331.50" y2="441.00" stroke="#555" stroke-width="1.0" />
<line x1="329.50" y1="328.20" x2="331.50" y2="328.20" stroke="#555" stroke-width="0.9" />
<text transform="translate(328.30,330.50) scale(0.9,1)" font-size="5.0" text-anchor="end" font-weight="bold" fill="#111" stroke="#111" stroke-width="0.1"  >2x10<tspan font-size="70%" baseline-shift="45%">11</tspan></text>
<line x1="329.50" y1="355.00" x2="331.50" y2="355.00" stroke="#555" stroke-width="0.9" />
<text transform="translate(328.30,357.30) scale(0.9,1)" font-size="5.0" text-anchor="end" font-weight="bold" fill="#111" stroke="#111" stroke-width="0.1"  >2x10<tspan font-size="70%" baseline-shift="45%">11</tspan></text>
<line x1="329.50" y1="381.90" x2="331.50" y2="381.90" stroke="#555" stroke-width="0.9" />
<text transform="translate(328.30,384.20) scale(0.9,1)" font-size="5.0" text-anchor="end" font-weight="bold" fill="#111" stroke="#111" stroke-width="0.1"  >1x10<tspan font-size="70%" baseline-shift="45%">11</tspan></text>
<line x1="329.50" y1="408.70" x2="331.50" y2="408.70" stroke="#555" stroke-width="0.9" />
<text transform="translate(328.30,411.00) scale(0.9,1)" font-size="5.0" text-anchor="end" font-weight="bold" fill="#111" stroke="#111" stroke-width="0.1"  >5x10<tspan font-size="70%" baseline-shift="45%">11</tspan></text>
<line x1="329.50" y1="435.30" x2="331.50" y2="435.30" stroke="#555" stroke-width="0.9" />
<text transform="translate(328.30,437.60) scale(0.9,1)" font-size="5.0" text-anchor="end" font-weight="bold" fill="#111" stroke="#111" stroke-width="0.1"  >0</text>
<line x1="330.30" y1="341.60" x2="331.50" y2="341.60" stroke="#555" stroke-width="0.6" />
<line x1="330.30" y1="368.45" x2="331.50" y2="368.45" stroke="#555" stroke-width="0.6" />
<line x1="330.30" y1="395.30" x2="331.50" y2="395.30" stroke="#555" stroke-width="0.6" />
<line x1="330.30" y1="422.00" x2="331.50" y2="422.00" stroke="#555" stroke-width="0.6" />
<line x1="331.00" y1="440.50" x2="518.40" y2="440.50" stroke="#555" stroke-width="1.0" />
<line x1="353.40" y1="440.50" x2="353.40" y2="442.10" stroke="#555" stroke-width="0.9" />
<text transform="translate(353.40,448.70) scale(1.0,1)" font-size="5.2" text-anchor="middle" font-weight="bold" fill="#111" stroke="#111" stroke-width="0.2"  >0.1</text>
<line x1="401.50" y1="440.50" x2="401.50" y2="442.10" stroke="#555" stroke-width="0.9" />
<text transform="translate(401.50,448.70) scale(1.0,1)" font-size="5.2" text-anchor="middle" font-weight="bold" fill="#111" stroke="#111" stroke-width="0.2"  >1</text>
<line x1="448.60" y1="440.50" x2="448.60" y2="442.10" stroke="#555" stroke-width="0.9" />
<text transform="translate(448.60,448.70) scale(1.0,1)" font-size="5.2" text-anchor="middle" font-weight="bold" fill="#111" stroke="#111" stroke-width="0.2"  >10</text>
<line x1="495.70" y1="440.50" x2="495.70" y2="442.10" stroke="#555" stroke-width="0.9" />
<text transform="translate(495.70,448.70) scale(1.0,1)" font-size="5.2" text-anchor="middle" font-weight="bold" fill="#111" stroke="#111" stroke-width="0.2"  >100</text>
<line x1="367.68" y1="440.50" x2="367.68" y2="441.50" stroke="#555" stroke-width="0.6" />
<line x1="376.03" y1="440.50" x2="376.03" y2="441.50" stroke="#555" stroke-width="0.6" />
<line x1="381.96" y1="440.50" x2="381.96" y2="441.50" stroke="#555" stroke-width="0.6" />
<line x1="386.55" y1="440.50" x2="386.55" y2="441.50" stroke="#555" stroke-width="0.6" />
<line x1="390.31" y1="440.50" x2="390.31" y2="441.50" stroke="#555" stroke-width="0.6" />
<line x1="393.49" y1="440.50" x2="393.49" y2="441.50" stroke="#555" stroke-width="0.6" />
<line x1="396.24" y1="440.50" x2="396.24" y2="441.50" stroke="#555" stroke-width="0.6" />
<line x1="398.66" y1="440.50" x2="398.66" y2="441.50" stroke="#555" stroke-width="0.6" />
<line x1="415.78" y1="440.50" x2="415.78" y2="441.50" stroke="#555" stroke-width="0.6" />
<line x1="424.13" y1="440.50" x2="424.13" y2="441.50" stroke="#555" stroke-width="0.6" />
<line x1="430.06" y1="440.50" x2="430.06" y2="441.50" stroke="#555" stroke-width="0.6" />
<line x1="434.65" y1="440.50" x2="434.65" y2="441.50" stroke="#555" stroke-width="0.6" />
<line x1="438.41" y1="440.50" x2="438.41" y2="441.50" stroke="#555" stroke-width="0.6" />
<line x1="441.59" y1="440.50" x2="441.59" y2="441.50" stroke="#555" stroke-width="0.6" />
<line x1="444.34" y1="440.50" x2="444.34" y2="441.50" stroke="#555" stroke-width="0.6" />
<line x1="446.76" y1="440.50" x2="446.76" y2="441.50" stroke="#555" stroke-width="0.6" />
<line x1="462.88" y1="440.50" x2="462.88" y2="441.50" stroke="#555" stroke-width="0.6" />
<line x1="471.23" y1="440.50" x2="471.23" y2="441.50" stroke="#555" stroke-width="0.6" />
<line x1="477.16" y1="440.50" x2="477.16" y2="441.50" stroke="#555" stroke-width="0.6" />
<line x1="481.75" y1="440.50" x2="481.75" y2="441.50" stroke="#555" stroke-width="0.6" />
<line x1="485.51" y1="440.50" x2="485.51" y2="441.50" stroke="#555" stroke-width="0.6" />
<line x1="488.69" y1="440.50" x2="488.69" y2="441.50" stroke="#555" stroke-width="0.6" />
<line x1="491.44" y1="440.50" x2="491.44" y2="441.50" stroke="#555" stroke-width="0.6" />
<line x1="493.86" y1="440.50" x2="493.86" y2="441.50" stroke="#555" stroke-width="0.6" />
<text x="425.30" y="460.20" font-size="7.8" text-anchor="middle" font-weight="bold" fill="#000"  textLength="91" lengthAdjust="spacingAndGlyphs" >IgG concentration (µg/mL)</text>
<line x1="343.10" y1="382.50" x2="343.10" y2="401.30" stroke="#a8a8a8" stroke-width="0.8" />
<line x1="338.91" y1="382.50" x2="347.28" y2="382.50" stroke="#a8a8a8" stroke-width="0.8" />
<rect x="335.35" y="401.30" width="15.50" height="34.00" fill="#cbcbcb" stroke="#9a9a9a" stroke-width="0.9"/>
<line x1="390.30" y1="346.30" x2="390.30" y2="368.60" stroke="#a8a8a8" stroke-width="0.8" />
<line x1="386.12" y1="346.30" x2="394.49" y2="346.30" stroke="#a8a8a8" stroke-width="0.8" />
<rect x="382.55" y="368.60" width="15.50" height="66.70" fill="#cbcbcb" stroke="#9a9a9a" stroke-width="0.9"/>
<line x1="437.00" y1="359.40" x2="437.00" y2="370.70" stroke="#a8a8a8" stroke-width="0.8" />
<line x1="432.81" y1="359.40" x2="441.19" y2="359.40" stroke="#a8a8a8" stroke-width="0.8" />
<rect x="429.25" y="370.70" width="15.50" height="64.60" fill="#cbcbcb" stroke="#9a9a9a" stroke-width="0.9"/>
<line x1="483.70" y1="357.70" x2="483.70" y2="387.60" stroke="#a8a8a8" stroke-width="0.8" />
<line x1="483.70" y1="426.50" x2="483.70" y2="433.00" stroke="#a8a8a8" stroke-width="0.8" />
<line x1="479.51" y1="357.70" x2="487.88" y2="357.70" stroke="#a8a8a8" stroke-width="0.8" />
<line x1="479.51" y1="433.00" x2="487.88" y2="433.00" stroke="#a8a8a8" stroke-width="0.8" />
<rect x="475.95" y="387.60" width="15.50" height="38.90" fill="#cbcbcb" stroke="#9a9a9a" stroke-width="0.9"/>
<line x1="475.95" y1="406.40" x2="491.45" y2="406.40" stroke="#9a9a9a" stroke-width="0.9" />
<line x1="366.40" y1="430.40" x2="366.40" y2="435.00" stroke="#a8a8a8" stroke-width="0.8" />
<line x1="362.21" y1="430.40" x2="370.58" y2="430.40" stroke="#a8a8a8" stroke-width="0.8" />
<rect x="358.65" y="435.00" width="15.50" height="0.30" fill="#ffffff" stroke="#acacac" stroke-width="0.9"/>
<line x1="413.20" y1="415.00" x2="413.20" y2="435.30" stroke="#a8a8a8" stroke-width="0.8" />
<line x1="409.01" y1="415.00" x2="417.38" y2="415.00" stroke="#a8a8a8" stroke-width="0.8" />
<line x1="460.30" y1="382.00" x2="460.30" y2="435.30" stroke="#a8a8a8" stroke-width="0.8" />
<line x1="456.12" y1="382.00" x2="464.49" y2="382.00" stroke="#a8a8a8" stroke-width="0.8" />
<line x1="507.90" y1="379.50" x2="507.90" y2="429.00" stroke="#a8a8a8" stroke-width="0.8" />
<line x1="503.71" y1="379.50" x2="512.08" y2="379.50" stroke="#a8a8a8" stroke-width="0.8" />
<rect x="500.15" y="429.00" width="15.50" height="6.60" fill="#ffffff" stroke="#acacac" stroke-width="0.9"/>
<polyline points="343.10,435.30 390.30,435.30 437.00,405.40 483.70,406.40" fill="none" stroke="#111" stroke-width="1.3" stroke-linejoin="round"  />
<polyline points="366.40,435.60 497.00,435.60" fill="none" stroke="#111" stroke-width="1.6" stroke-linejoin="round" stroke-dasharray="1.55 1.5" />
<polyline points="343.10,377.00 343.10,375.00 366.40,375.00 366.40,377.00" fill="none" stroke="#444" stroke-width="0.9" stroke-linejoin="round"  />
<text x="354.75" y="371.60" font-size="5.5" text-anchor="middle" font-weight="bold" fill="#000"   >p=0.04</text>
<polyline points="390.30,340.80 390.30,338.80 413.20,338.80 413.20,340.80" fill="none" stroke="#444" stroke-width="0.9" stroke-linejoin="round"  />
<text x="401.75" y="335.40" font-size="5.5" text-anchor="middle" font-weight="bold" fill="#000"   >p=0.007</text>
<polyline points="437.00,352.30 437.00,350.30 460.30,350.30 460.30,352.30" fill="none" stroke="#444" stroke-width="0.9" stroke-linejoin="round"  />
<text x="448.65" y="346.20" font-size="5.5" text-anchor="middle" font-weight="bold" fill="#000"   >p=0.0003</text>
<polyline points="483.70,352.30 483.70,350.30 507.90,350.30 507.90,352.30" fill="none" stroke="#444" stroke-width="0.9" stroke-linejoin="round"  />
<text x="495.80" y="346.20" font-size="5.5" text-anchor="middle" font-weight="bold" fill="#000"   >p=0.0002</text>
<rect x="420.3" y="305.3" width="11" height="7.7" fill="#c9c9c9" stroke="#999" stroke-width="0.8"/>
<line x1="419.80" y1="309.20" x2="431.80" y2="309.20" stroke="#000" stroke-width="1.8" />
<text x="436.20" y="312.90" font-size="8.25" text-anchor="start" font-weight="normal" fill="#000" stroke="#000" stroke-width="0.18"  >HIV controller</text>
<rect x="420.3" y="314.3" width="11" height="6.7" fill="#fff" stroke="#aaa" stroke-width="0.8"/>
<rect x="420.6" y="316.7" width="1.8" height="1.8" fill="#000"/>
<rect x="424.70000000000005" y="316.7" width="1.8" height="1.8" fill="#000"/>
<rect x="428.8" y="316.7" width="1.8" height="1.8" fill="#000"/>
<text x="436.20" y="321.50" font-size="8.25" text-anchor="start" font-weight="normal" fill="#000" stroke="#000" stroke-width="0.18"  >HIV non-controller</text></g></svg></body></html>
